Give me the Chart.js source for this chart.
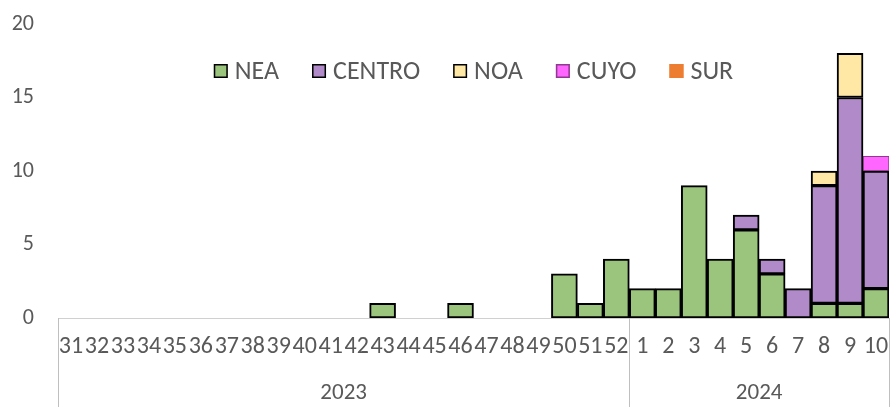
<!DOCTYPE html>
<html>
<head>
<meta charset="utf-8">
<script src="https://cdn.jsdelivr.net/npm/chart.js@4.4.1/dist/chart.umd.min.js"></script>
<style>
  html, body { margin: 0; padding: 0; background: #fff; }
  #wrap { width: 890px; height: 407px; }
</style>
</head>
<body>
<div id="wrap"><canvas id="chart"></canvas></div>
<script>
// semanas epidemiologicas
const weeks = ['31','32','33','34','35','36','37','38','39','40','41','42','43','44','45','46','47','48','49','50','51','52',
               '1','2','3','4','5','6','7','8','9','10'];
const years = ['2023', '2024'];
const weeksPerYear = [22, 10];

const nea    = [0,0,0,0,0,0,0,0,0,0,0,0,1,0,0,1,0,0,0,3,1,4, 2,2,9,4,6,3,0,1,1,2];
const centro = [0,0,0,0,0,0,0,0,0,0,0,0,0,0,0,0,0,0,0,0,0,0, 0,0,0,0,1,1,2,8,14,8];
const noa    = [0,0,0,0,0,0,0,0,0,0,0,0,0,0,0,0,0,0,0,0,0,0, 0,0,0,0,0,0,0,1,3,0];
const cuyo   = [0,0,0,0,0,0,0,0,0,0,0,0,0,0,0,0,0,0,0,0,0,0, 0,0,0,0,0,0,0,0,0,1];
const sur    = [0,0,0,0,0,0,0,0,0,0,0,0,0,0,0,0,0,0,0,0,0,0, 0,0,0,0,0,0,0,0,0,0];

const yTicks = [0, 5, 10, 15, 20];

const FONT = 'Carlito, "Liberation Sans", Arial, sans-serif';
const GREY = '#595959';

function ds(label, data, bg, border, bw) {
  return {
    label: label, data: data, backgroundColor: bg, borderColor: border,
    borderWidth: bw, borderSkipped: false,
    barPercentage: 1, categoryPercentage: 1
  };
}

// year row under the week labels + separators
const yearAxis = {
  id: 'yearAxis',
  afterDraw(chart) {
    const ctx = chart.ctx;
    const x = chart.scales.x;
    const top = chart.chartArea.bottom;
    const bottom = chart.height;
    const half = (x.getPixelForValue(1) - x.getPixelForValue(0)) / 2;
    ctx.save();
    ctx.strokeStyle = '#BFBFBF';
    ctx.lineWidth = 1;
    ctx.fillStyle = GREY;
    ctx.font = '23px ' + FONT;
    ctx.textAlign = 'center';
    ctx.textBaseline = 'middle';
    let start = 0;
    const edges = [x.getPixelForValue(0) - half];
    years.forEach((yr, i) => {
      const end = start + weeksPerYear[i] - 1;
      const l = x.getPixelForValue(start) - half;
      const r = x.getPixelForValue(end) + half;
      edges.push(r);
      ctx.fillText(yr, (l + r) / 2, bottom - 14);
      start = end + 1;
    });
    edges.forEach(e => {
      const px = Math.min(Math.round(e), chart.width - 1) + 0.5;
      ctx.beginPath();
      ctx.moveTo(px, top);
      ctx.lineTo(px, bottom);
      ctx.stroke();
    });
    ctx.restore();
  }
};

// legend drawn inside the plot area
const innerLegend = {
  id: 'innerLegend',
  afterDraw(chart) {
    const ctx = chart.ctx;
    const area = chart.chartArea;
    const box = 14, gap = 7, space = 33;
    ctx.save();
    ctx.font = '26px ' + FONT;
    ctx.textBaseline = 'middle';
    const items = chart.data.datasets.map(d => ({ d: d, w: box + gap + ctx.measureText(d.label).width }));
    const total = items.reduce((s, it) => s + it.w, 0) + space * (items.length - 1);
    let cx = (area.left + area.right) / 2 - total / 2;
    const cy = area.top + 47;
    items.forEach(it => {
      ctx.fillStyle = it.d.backgroundColor;
      ctx.fillRect(cx, cy - box / 2, box, box);
      ctx.strokeStyle = it.d.borderColor;
      ctx.lineWidth = 1.5;
      ctx.strokeRect(cx + 0.75, cy - box / 2 + 0.75, box - 1.5, box - 1.5);
      ctx.fillStyle = GREY;
      ctx.fillText(it.d.label, cx + box + gap, cy + 1);
      cx += it.w + space;
    });
    ctx.restore();
  }
};

const sets = [
  ds('NEA', nea, '#9BC57D', '#000000', 2),
  ds('CENTRO', centro, '#B18BC9', '#000000', 2),
  ds('NOA', noa, '#FFE8A6', '#000000', 2),
  ds('CUYO', cuyo, '#FF66FF', '#8E3A8E', 1),
  ds('SUR', sur, '#ED7D31', '#ED7D31', 1)
];

new Chart(document.getElementById('chart').getContext('2d'), {
  type: 'bar',
  data: { labels: weeks, datasets: sets },
  options: {
    responsive: true,
    maintainAspectRatio: false,
    animation: false,
    layout: { padding: { top: 24, right: 1, left: 0, bottom: 0 } },
    plugins: { legend: { display: false }, tooltip: { enabled: false } },
    scales: {
      x: {
        stacked: true,
        grid: { display: false, drawTicks: false },
        border: { display: true, color: '#D0D0D0', width: 1 },
        ticks: {
          autoSkip: false, maxRotation: 0, color: GREY, padding: 15,
          font: { family: FONT, size: 24 }
        },
        afterFit(scale) {
          scale.height = 89;
          scale.paddingLeft = 0;
          scale.paddingRight = 0;
        }
      },
      y: {
        stacked: true,
        min: 0, max: 20,
        grid: { display: false, drawTicks: false },
        border: { display: false },
        afterBuildTicks(scale) { scale.ticks = yTicks.map(v => ({ value: v })); },
        ticks: {
          color: GREY, padding: 24,
          font: { family: FONT, size: 22 }
        },
        afterFit(scale) {
          scale.width = 58;
          scale.paddingTop = 0;
          scale.paddingBottom = 0;
        }
      }
    }
  },
  plugins: [yearAxis, innerLegend]
});
</script>
</body>
</html>
